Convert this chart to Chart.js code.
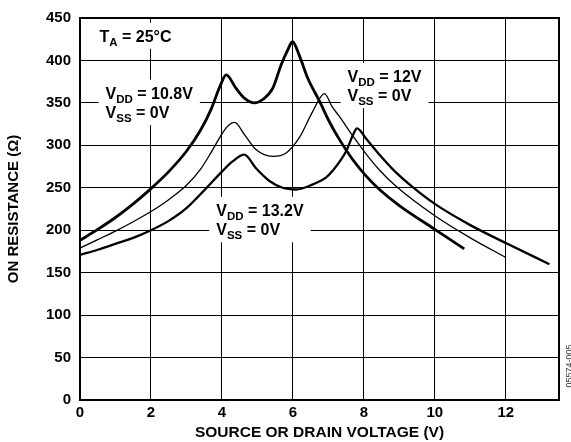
<!DOCTYPE html>
<html>
<head>
<meta charset="utf-8">
<script src="https://cdn.jsdelivr.net/npm/chart.js@4.4.1/dist/chart.umd.min.js"></script>
<style>
	html, body { margin: 0; padding: 0; background: #fff; }
	#wrap { width: 571px; height: 442px; }
</style>
</head>
<body>
<div id="wrap"><canvas id="ronChart" width="571" height="442"></canvas></div>
<script>
// On resistance vs. source/drain voltage, single supply
const xTickValues = [ 0, 2, 4, 6, 8, 10, 12 ];
const yTickValues = [ 0, 50, 100, 150, 200, 250, 300, 350, 400, 450 ];

// VDD = 10.8V, VSS = 0V
const vdd108Volts = [ 0, 0.5, 1, 1.5, 2, 2.5, 3, 3.4, 3.7, 3.95, 4.12, 4.4, 4.65, 4.92, 5.15, 5.43, 5.67, 5.85, 5.99, 6.18, 6.42, 6.75, 7.05, 7.31, 7.69, 8.06, 8.44, 9, 10, 10.83 ];
const vdd108Ohms = [ 188, 201, 215, 231, 249, 269, 293, 318, 343, 370, 383, 367, 355, 350, 354, 367, 395, 412, 422, 406, 379, 352, 326, 307, 283, 264, 248, 229, 201, 178 ];

// VDD = 12V, VSS = 0V
const vdd12Volts = [ 0, 0.5, 1, 1.5, 2, 2.5, 3, 3.4, 3.7, 3.95, 4.15, 4.36, 4.63, 4.96, 5.43, 5.81, 6.18, 6.56, 6.89, 7.1, 7.31, 7.69, 8.06, 8.44, 8.9, 10, 11, 12 ];
const vdd12Ohms = [ 179, 189, 199, 210, 222, 236, 253, 272, 292, 310, 322, 327, 313, 295, 287, 291, 309, 340, 361, 346, 334, 311, 290, 271, 252, 217, 191, 168 ];

// VDD = 13.2V, VSS = 0V
const vdd132Volts = [ 0, 0.5, 1, 1.5, 2, 2.5, 3, 3.5, 4, 4.3, 4.63, 4.96, 5.34, 5.71, 6.09, 6.56, 6.93, 7.12, 7.5, 7.69, 7.81, 8.06, 8.44, 8.81, 9.37, 10, 11, 12, 13.23 ];
const vdd132Ohms = [ 171, 177, 184, 191, 200, 211, 226, 247, 269, 281, 289, 273, 258, 250, 248, 254, 262, 270, 293, 312, 320, 308, 289, 272, 251, 231, 206, 185, 160 ];

// Text blocks inside the plot: [text, isSubscript]
const noteTA = [ [ [ 'T', false ], [ 'A', true ], [ ' = 25°C', false ] ] ];
const note108 = [
	[ [ 'V', false ], [ 'DD', true ], [ ' = 10.8V', false ] ],
	[ [ 'V', false ], [ 'SS', true ], [ ' = 0V', false ] ],
];
const note12 = [
	[ [ 'V', false ], [ 'DD', true ], [ ' = 12V', false ] ],
	[ [ 'V', false ], [ 'SS', true ], [ ' = 0V', false ] ],
];
const note132 = [
	[ [ 'V', false ], [ 'DD', true ], [ ' = 13.2V', false ] ],
	[ [ 'V', false ], [ 'SS', true ], [ ' = 0V', false ] ],
];
const figureId = '05574-005';

const FONT = "'Liberation Sans', Arial, Helvetica, sans-serif";

function toPoints( xs, ys ) {
	return xs.map( ( x, i ) => ( { x: x, y: ys[ i ] } ) );
}

// note anchors in data units (volts, ohms) of the first baseline
const notes = [
	{ lines: noteTA, v: 0.55, r: 422 },
	{ lines: note108, v: 0.72, r: 355 },
	{ lines: note12, v: 7.54, r: 375 },
	{ lines: note132, v: 3.84, r: 217 },
];

function setFont( ctx, sub ) {
	ctx.font = sub ? `bold 11.5px ${ FONT }` : `bold 16px ${ FONT }`;
}

function lineWidthOf( ctx, parts ) {
	let w = 0;
	parts.forEach( ( [ txt, sub ] ) => {
		setFont( ctx, sub );
		w += ctx.measureText( txt ).width;
	} );
	return w;
}

function drawParts( ctx, x, y, parts ) {
	let cx = x;
	parts.forEach( ( [ txt, sub ] ) => {
		setFont( ctx, sub );
		ctx.fillText( txt, cx, sub ? y + 4 : y );
		cx += ctx.measureText( txt ).width;
	} );
}

const notesPlugin = {
	id: 'notes',
	beforeDatasetsDraw( chart ) {
		const { ctx, chartArea, scales } = chart;
		ctx.save();
		// white boxes behind the labels hide the grid
		ctx.fillStyle = '#fff';
		notes.forEach( ( n ) => {
			const x = scales.x.getPixelForValue( n.v );
			const y = scales.y.getPixelForValue( n.r );
			const w = Math.max( ...n.lines.map( ( l ) => lineWidthOf( ctx, l ) ) );
			const h = ( n.lines.length - 1 ) * 19.5;
			ctx.fillRect( x - 7, y - 12 - 7, w + 14, h + 12 + 14 );
		} );
		// frame
		ctx.strokeStyle = '#000';
		ctx.lineWidth = 2;
		ctx.strokeRect( chartArea.left, chartArea.top, chartArea.right - chartArea.left, chartArea.bottom - chartArea.top );
		ctx.restore();
	},
	afterDatasetsDraw( chart ) {
		const { ctx, scales } = chart;
		ctx.save();
		ctx.fillStyle = '#000';
		ctx.textBaseline = 'alphabetic';
		ctx.textAlign = 'left';
		notes.forEach( ( n ) => {
			const x = scales.x.getPixelForValue( n.v );
			const y = scales.y.getPixelForValue( n.r );
			n.lines.forEach( ( l, i ) => drawParts( ctx, x, y + i * 19.5, l ) );
		} );
		ctx.restore();
	},
	afterDraw( chart ) {
		const { ctx } = chart;
		ctx.save();
		ctx.translate( 571.5, 366 );
		ctx.rotate( -Math.PI / 2 );
		ctx.font = `9px ${ FONT }`;
		ctx.fillStyle = '#333';
		ctx.textAlign = 'center';
		ctx.textBaseline = 'alphabetic';
		ctx.fillText( figureId, 0, 0 );
		ctx.restore();
	},
};

const curveStyle = {
	borderColor: '#000',
	pointRadius: 0,
	fill: false,
	cubicInterpolationMode: 'monotone',
};

new Chart( document.getElementById( 'ronChart' ), {
	type: 'line',
	data: {
		datasets: [
			{ ...curveStyle, label: 'VDD = 10.8V', data: toPoints( vdd108Volts, vdd108Ohms ), borderWidth: 2.8 },
			{ ...curveStyle, label: 'VDD = 12V', data: toPoints( vdd12Volts, vdd12Ohms ), borderWidth: 1.3 },
			{ ...curveStyle, label: 'VDD = 13.2V', data: toPoints( vdd132Volts, vdd132Ohms ), borderWidth: 2.3 },
		],
	},
	options: {
		responsive: false,
		animation: false,
		devicePixelRatio: 1,
		layout: { padding: { top: 16, right: 12, left: 0, bottom: 0 } },
		plugins: {
			legend: { display: false },
			tooltip: { enabled: false },
		},
		scales: {
			x: {
				type: 'linear',
				min: 0,
				max: 13.5,
				afterBuildTicks: ( s ) => {
					s.ticks = xTickValues.map( ( v ) => ( { value: v } ) );
				},
				afterFit: ( s ) => {
					s.height = 42;
				},
				grid: { color: '#000', lineWidth: 1, drawTicks: false },
				border: { display: true, color: '#000', width: 2 },
				ticks: {
					color: '#000',
					font: { family: FONT, size: 15, weight: 'bold' },
					padding: 4,
					maxRotation: 0,
					autoSkip: false,
				},
				title: {
					display: true,
					text: 'SOURCE OR DRAIN VOLTAGE (V)',
					color: '#000',
					font: { family: FONT, size: 15.5, weight: 'bold' },
					padding: { top: 2, bottom: 0 },
				},
			},
			y: {
				min: 0,
				max: 450,
				afterBuildTicks: ( s ) => {
					s.ticks = yTickValues.map( ( v ) => ( { value: v } ) );
				},
				afterFit: ( s ) => {
					s.width = 80;
				},
				grid: { color: '#000', lineWidth: 1, drawTicks: false },
				border: { display: true, color: '#000', width: 2 },
				ticks: {
					color: '#000',
					font: { family: FONT, size: 15, weight: 'bold' },
					padding: 9,
				},
				title: {
					display: true,
					text: 'ON RESISTANCE (Ω)',
					color: '#000',
					font: { family: FONT, size: 15, weight: 'bold' },
					padding: { top: 5, bottom: 0 },
				},
			},
		},
	},
	plugins: [ notesPlugin ],
} );
</script>
</body>
</html>
